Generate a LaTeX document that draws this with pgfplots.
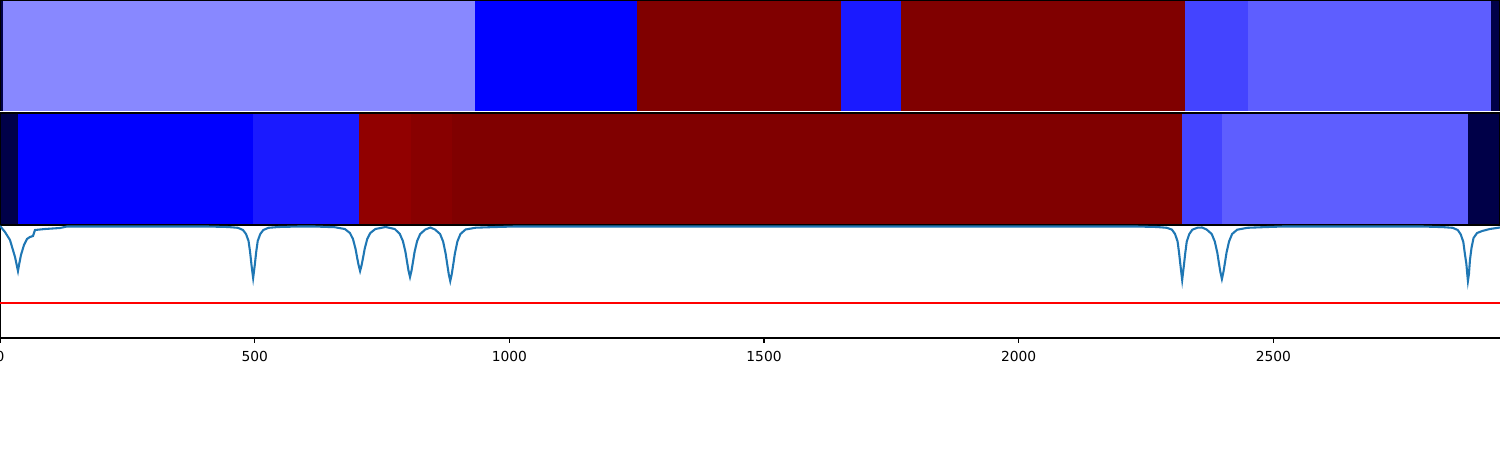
\documentclass[border=0pt]{standalone}
\usepackage{pgfplots}
\pgfplotsset{compat=1.18}
\usepackage{fontspec}
\setmainfont{DejaVu Sans}
\definecolor{navy}{RGB}{0,0,72}
\definecolor{lightb}{RGB}{136,136,255}
\definecolor{pureb}{RGB}{0,0,255}
\definecolor{maroon}{RGB}{128,0,0}
\definecolor{b1}{RGB}{26,26,255}
\definecolor{b4}{RGB}{68,68,255}
\definecolor{b5}{RGB}{94,94,255}
\definecolor{r1}{RGB}{145,0,0}
\definecolor{r2}{RGB}{136,0,0}
\definecolor{tabblue}{RGB}{31,119,180}
\pgfplotsset{
  panel/.style={scale only axis, width=750pt, xmin=0, xmax=2945,
    ymin=0, ymax=1, xtick=\empty, ytick=\empty, anchor=south west,
    axis line style={black, line width=0.55pt}},
  seg/.style={fill=#1, draw=none, forget plot}
}
\newcommand{\seg}[3]{\addplot[seg=#3] coordinates {(#1,0) (#2,0) (#2,1) (#1,1)} --cycle;}
\begin{document}
\begin{tikzpicture}
\useasboundingbox (0,0) rectangle (750pt,225pt);
% top panel
\begin{axis}[panel, height=55.75pt, at={(0,169.25pt)}, axis on top,
  axis x line*=top, axis line style={-}]
\seg{0}{6}{navy}
\seg{6}{933}{lightb}
\seg{933}{1251}{pureb}
\seg{1251}{1651}{maroon}
\seg{1651}{1769}{b1}
\seg{1769}{2327}{maroon}
\seg{2327}{2450}{b4}
\seg{2450}{2928}{b5}
\seg{2928}{2945}{navy}
\end{axis}
% middle panel
\begin{axis}[panel, height=56pt, at={(0,112.5pt)}, axis on top]
\seg{0}{35}{navy}
\seg{35}{497}{pureb}
\seg{497}{705}{b1}
\seg{705}{807}{r1}
\seg{807}{887}{r2}
\seg{887}{2321}{maroon}
\seg{2321}{2399}{b4}
\seg{2399}{2882}{b5}
\seg{2882}{2945}{navy}
\end{axis}
% bottom panel
\begin{axis}[scale only axis, width=750pt, height=56pt, xmin=0, xmax=2945,
  ymin=0, ymax=112, anchor=south west, at={(0,56pt)},
  axis x line*=bottom, axis y line*=left,
  axis line style={black, line width=0.55pt, -},
  xtick={0,500,1000,1500,2000,2500}, ytick=\empty,
  tick align=outside, major tick length=2.45pt,
  tick style={black, line width=0.55pt},
  xticklabel style={font=\fontsize{6.9}{8}\selectfont, yshift=-0.6pt},
  /pgf/number format/assume math mode=true,
  /pgf/number format/1000 sep={}]
\addplot[red, line width=1.04pt] coordinates {(0,35) (2945,35)};
\addplot[tabblue, line width=1.04pt] coordinates {
(0,112) (9.8,106) (19.6,98) (29.5,81) (35.3,67) (37.3,73) (41.2,83) (47.1,93) (53,99)
(58.9,101) (64.8,102) (68.7,108) (88.4,109) (117.8,110) (131.6,111.5)
(407,111.5) (447,111.0) (467,110.2) (477,108) (483,104) (488,97) (491,86) (494,72) (497,60)
(500,72) (503,86) (506,97) (511,104) (517,108) (527,110.2) (547,111.0) (587,111.5)
(617,111.5) (657,110.8) (677,109) (687,105) (693,99) (698,89.2) (701,80.8) (704,73) (707,67)
(710,73) (713,80.8) (716,89.2) (721,99) (727,105) (737,109) (757,111)
(775,109) (785,104) (791,97) (796,86.2) (799,76.7) (802,67.5) (805,61)
(808,67.5) (811,76.7) (814,86.2) (819,97) (825,104) (835,108.5) (845,110.5)
(854,108.5) (864,104) (870,96.5) (875,84.2) (878,73.9) (881,64) (884,57)
(887,64) (890,73.9) (893,84.2) (898,96.5) (904,104) (914,108.5) (934,110.3) (974,111.0) (1010,111.5)
(2231,111.5) (2271,111.0) (2291,110.2) (2301,108.3) (2307,104) (2312,96.5) (2315,84.7) (2318,71)
(2321,58) (2324,71) (2327,84.7) (2330,96.5) (2335,104) (2341,108.3) (2351,110.3) (2360,110.5)
(2369,108.5) (2379,104) (2385,96.5) (2390,85.2) (2393,75.3) (2396,66) (2399,59)
(2402,66) (2405,75.3) (2408,85.2) (2413,96.5) (2419,104) (2429,108.3) (2449,110.2) (2489,111.0) (2520,111.5)
(2792,111.5) (2832,110.9) (2852,110.2) (2862,108) (2868,103.5) (2873,96) (2876,84.2) (2879,73.9) (2880.5,65) (2882,57)
(2884,64) (2886,78) (2889,90) (2893,100) (2900,105) (2910,107) (2925,109) (2945,110.5)
};
\end{axis}
\end{tikzpicture}
\end{document}
